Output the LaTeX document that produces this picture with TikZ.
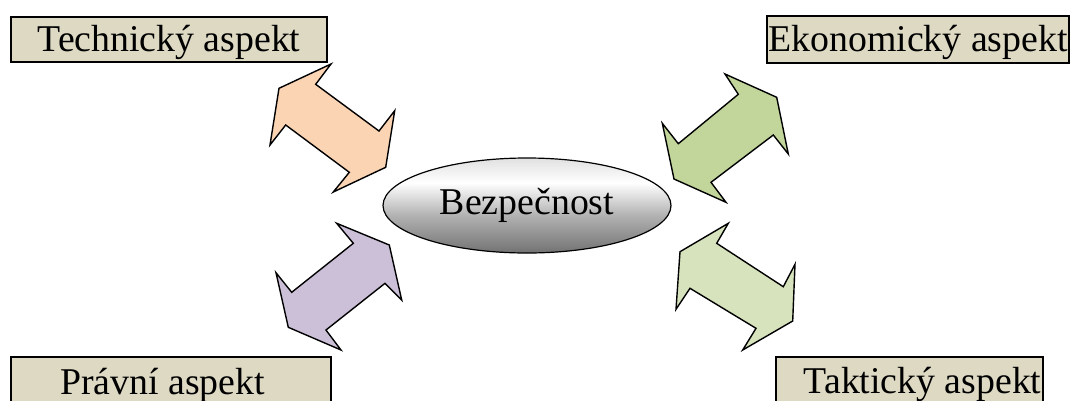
\documentclass[tikz,border=0pt]{standalone}
\usepackage{fontspec}
\setmainfont{Liberation Serif}
\usetikzlibrary{shapes.geometric}
\definecolor{boxfill}{HTML}{DDD9C3}
\definecolor{orangefill}{HTML}{FBD4B4}
\definecolor{greenfill}{HTML}{C2D69B}
\definecolor{purplefill}{HTML}{CCC0D9}
\definecolor{lightgreenfill}{HTML}{D6E3BC}
\pgfdeclareverticalshading{bezshade}{100bp}{color(0bp)=(black!55); color(25bp)=(black!55); color(45bp)=(black!30); color(62bp)=(white); color(75bp)=(black!12); color(100bp)=(black!12)}
\begin{document}
\begin{tikzpicture}[x=1pt,y=-1pt,
  every node/.style={font=\fontsize{37.8}{45}\selectfont},
  aspectbox/.style={draw=black, line width=2pt, fill=boxfill, inner sep=0pt},
  dblarrow/.style={draw=black, line width=1.4pt, line join=miter}
]
\useasboundingbox (0,0) rectangle (1074,400);
\clip (0,0) rectangle (1074,400);

% aspect boxes
\node[aspectbox, minimum width=316pt, text height=34.7pt, text depth=10.3pt] (tech) at (169,39.5) {Technický aspekt};
\node[aspectbox, minimum width=302pt, text height=35.7pt, text depth=11.3pt] (eko) at (918,39.5) {Ekonomický aspekt};
\node[aspectbox, minimum width=320pt, text height=37.2pt, text depth=10.8pt] (prav) at (170.7,381.3) {Právní aspekt\hspace*{16pt}};
\node[aspectbox, minimum width=267pt, text height=36.2pt, text depth=11.8pt] (takt) at (909.6,381.3) {\hspace*{26pt}Taktický aspekt};

% central ellipse
\node[ellipse, draw=black, line width=1.2pt, minimum width=288pt, minimum height=95pt, inner sep=0pt,
      shading=bezshade] (bez) at (527,205.5) {Bezpečnost};

% double arrows
\draw[dblarrow, fill=orangefill] (331,64) -- (315.7,84.3) -- (379,131) -- (394.7,110.7) -- (385.7,167.3)
  -- (333.3,192) -- (349.3,172.3) -- (285.7,125) -- (270,145) -- (279,88.3) -- cycle;
\draw[dblarrow, fill=greenfill] (725,74) -- (738.3,94.3) -- (678.3,143.7) -- (662.3,123.3) -- (674,179)
  -- (726,202.3) -- (711,182.3) -- (773.3,135) -- (788.3,154) -- (776.7,97.3) -- cycle;
\draw[dblarrow, fill=purplefill] (336.7,223.3) -- (353.3,243.3) -- (291.7,292.3) -- (276,272.7) -- (288.3,327.3)
  -- (341,350) -- (326,330) -- (385,283.3) -- (401.7,300) -- (389.3,245) -- cycle;
\draw[dblarrow, fill=lightgreenfill] (728.3,223.3) -- (716.7,243.3) -- (783.3,286.7) -- (795,264.3) -- (792.7,321)
  -- (742.7,350) -- (756,328.3) -- (690,288.3) -- (676,309.3) -- (680,251.7) -- cycle;
\end{tikzpicture}
\end{document}
